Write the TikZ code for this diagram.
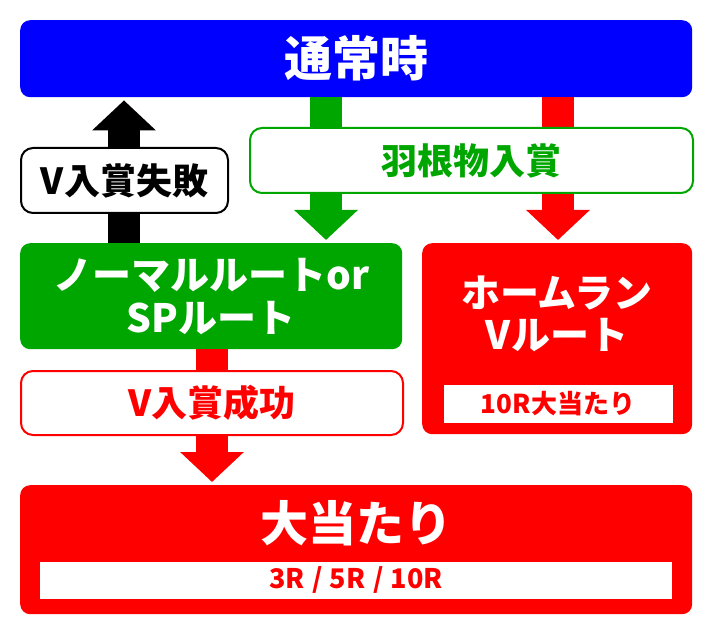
\documentclass[tikz,border=0pt]{standalone}
\usepackage{fontspec}
\setmainfont{Noto Sans CJK JP}
\usetikzlibrary{arrows.meta, positioning}
\definecolor{hblue}{RGB}{0,0,255}
\definecolor{hgreen}{RGB}{0,166,0}
\definecolor{hred}{RGB}{255,0,0}
\newcommand{\jfs}[2]{\fontsize{#1}{#2}\selectfont\bfseries}

\begin{document}
\begin{tikzpicture}[
  x=1pt, y=-1pt,
  box/.style={rounded corners=10pt, inner sep=0pt, anchor=north west,
              text=white, align=center},
  tag/.style={draw, fill=white, line width=2pt, rounded corners=12pt,
              inner sep=0pt, anchor=north west, minimum height=65pt,
              font=\jfs{36}{40}},
  sub/.style={fill=white, inner sep=0pt, minimum height=37pt, text=hred},
  blk/.style={line width=32pt, shorten >=3pt,
              -{Triangle[width=62pt, length=30pt]}}
]
  \useasboundingbox (0,0) rectangle (712,636);

  \coordinate (kx) at (124,0);
  \coordinate (gx) at (326,0);
  \coordinate (rx) at (558,0);
  \coordinate (bx) at (212,0);

  \node[box, fill=hblue, minimum width=672pt, minimum height=77pt,
        font=\jfs{48}{52}] (Tsujo) at (20,20) {通常時};
  \node[box, fill=hgreen, minimum width=382pt, minimum height=106pt,
        font=\jfs{39}{43}] (Normal) at (20,243) {ノーマルルートor\\SPルート};
  \node[box, fill=hred, minimum width=270pt, minimum height=191pt] (Home)
        at (422,243) {};
  \node[text=white, align=center, font=\jfs{39}{42}] (HomeTxt) at (557,314)
        {ホームラン\\Vルート};
  \node[sub, minimum width=229pt, minimum height=38pt, font=\jfs{26}{28}]
        (HomeSub) at (558,404) {10R大当たり};
  \node[box, fill=hred, minimum width=672pt, minimum height=129pt] (Atari)
        at (20,485) {};
  \node[text=white, font=\jfs{48}{52}] (AtariTxt) at (356,523) {大当たり};
  \node[sub, minimum width=632pt, font=\jfs{27}{29}] (AtariSub) at (356,580)
        {3R\;/\;5R\;/\;10R};

  \draw[blk, hgreen] (Tsujo.south -| gx) -- (Normal.north -| gx);
  \draw[blk, hred]   (Tsujo.south -| rx) -- (Home.north -| rx);
  \draw[blk, black]  (Normal.north -| kx) -- (Tsujo.south -| kx);
  \draw[blk, hred]   (Normal.south -| bx) -- (Atari.north -| bx);

  \node[tag, draw=hgreen, text=hgreen, minimum width=443pt] (Hane)
        at (249,127) {羽根物入賞};
  \node[tag, draw=black, minimum width=207pt] (VNg)
        at (20,147) {V入賞失敗};
  \node[tag, draw=hred, text=hred, minimum width=382pt, minimum height=64pt]
        (VOk) at (20,370) {V入賞成功};
\end{tikzpicture}
\end{document}
